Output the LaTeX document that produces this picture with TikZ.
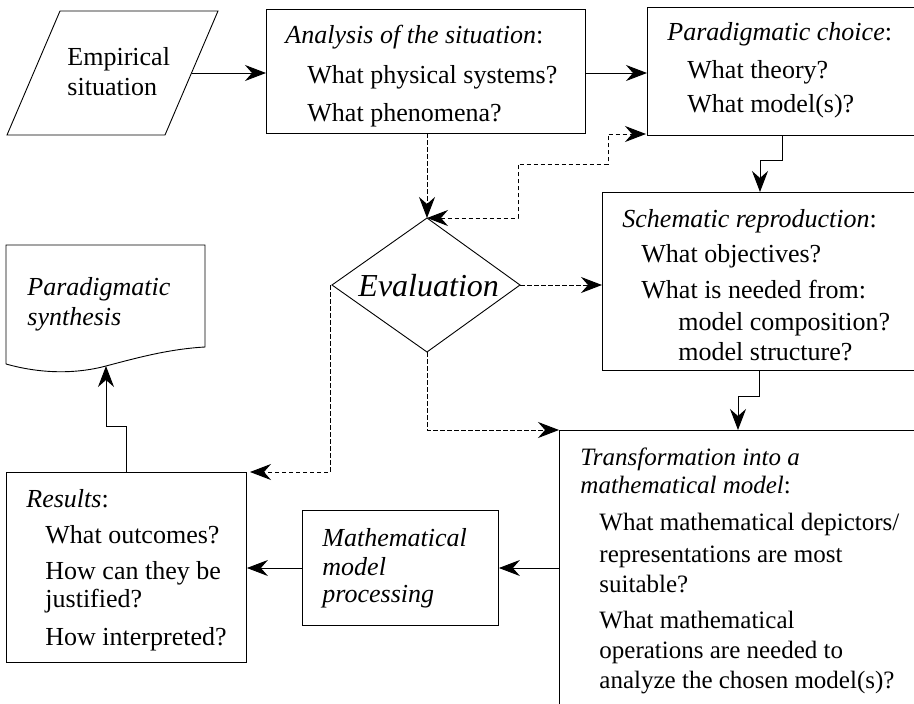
\documentclass[tikz,border=0pt]{standalone}
\usepackage{fontspec}
\setmainfont{Liberation Serif}
\usetikzlibrary{arrows.meta}
\newcommand{\bodyfont}{\fontsize{26}{30}\selectfont}
\newcommand{\trfont}{\fontsize{25}{30}\selectfont}
\newcommand{\evfont}{\fontsize{32}{36}\selectfont\itshape}
\begin{document}
\begin{tikzpicture}[x=1pt,y=-1pt,
  line width=0.9pt,
  tip/.tip={Stealth[length=21pt,width=16pt,inset=7pt]},
  arr/.style={-tip},
  dasharr/.style={arr, dash pattern=on 4.5pt off 2.5pt},
  box/.style={draw, rectangle, inner sep=0pt, anchor=north west},
  txt/.style={anchor=base west, inner sep=0pt, font=\bodyfont},
  trtxt/.style={anchor=base west, inner sep=0pt, font=\trfont}]
\useasboundingbox (0,0) rectangle (914,704);

% --- Empirical situation (parallelogram)
\coordinate (empA) at (60,11);
\coordinate (empB) at (218,11);
\coordinate (empC) at (165,135);
\coordinate (empD) at (7,135);
\draw (empA) -- (empB) -- (empC) -- (empD) -- cycle;
\coordinate (empR) at (192,73);
\node[txt] (emp1) at (67,65) {Empirical};
\node[txt] (emp2) at (67,95) {situation};

% --- Analysis of the situation
\node[box, minimum width=319pt, minimum height=124pt] (ana) at (266,9) {};
\node[txt] (ana1) at (285,43) {\textit{Analysis of the situation}:};
\node[txt] (ana2) at (307,83) {What physical systems?};
\node[txt] (ana3) at (307,121) {What phenomena?};

% --- Paradigmatic choice
\node[box, minimum width=300pt, minimum height=128pt] (par) at (647,7) {};
\node[txt] (par1) at (667,40) {\textit{Paradigmatic choice}:};
\node[txt] (par2) at (687,78) {What theory?};
\node[txt] (par3) at (687,112) {What model(s)?};

% --- Schematic reproduction
\node[box, minimum width=330pt, minimum height=178pt] (sch) at (602,192) {};
\node[txt] (sch1) at (622,227) {\textit{Schematic reproduction}:};
\node[txt] (sch2) at (641,262) {What objectives?};
\node[txt] (sch3) at (641,298) {What is needed from:};
\node[txt] (sch4) at (678,330) {model composition?};
\node[txt] (sch5) at (678,360) {model structure?};

% --- Transformation into a mathematical model
\node[box, minimum width=380pt, minimum height=300pt] (tra) at (559,430) {};
\node[trtxt] (tra1) at (580,465) {\textit{Transformation into a}};
\node[trtxt] (tra2) at (580,493) {\textit{mathematical model}:};
\node[trtxt] (tra3) at (599,530) {What mathematical depictors/};
\node[trtxt] (tra4) at (599,562) {representations are most};
\node[trtxt] (tra5) at (599,592) {suitable?};
\node[trtxt] (tra6) at (599,628) {What mathematical};
\node[trtxt] (tra7) at (599,658) {operations are needed to};
\node[trtxt] (tra8) at (599,688) {analyze the chosen model(s)?};

% --- Mathematical model processing
\node[box, minimum width=196pt, minimum height=115pt] (mmp) at (302,510) {};
\node[txt] (mmp1) at (322,546) {\textit{Mathematical}};
\node[txt] (mmp2) at (322,575) {\textit{model}};
\node[txt] (mmp3) at (322,602) {\textit{processing}};

% --- Results
\node[box, minimum width=240pt, minimum height=190pt] (res) at (6,472) {};
\node[txt] (res1) at (26,507) {\textit{Results}:};
\node[txt] (res2) at (45,543) {What outcomes?};
\node[txt] (res3) at (45,579) {How can they be};
\node[txt] (res4) at (45,607) {justified?};
\node[txt] (res5) at (45,645) {How interpreted?};

% --- Paradigmatic synthesis (document shape)
\coordinate (synTL) at (6,245);
\coordinate (synTR) at (205,245);
\coordinate (synBR) at (205,347);
\coordinate (synBL) at (6,364);
\coordinate (synArr) at (106,366);
\draw (synBL) -- (synTL) -- (synTR) -- (synBR)
  .. controls (170,349) and (140,357) .. (synArr)
  .. controls (80,373) and (45,375) .. (synBL);
\node[txt] (syn1) at (27,295) {\textit{Paradigmatic}};
\node[txt] (syn2) at (27,325) {\textit{synthesis}};

% --- Evaluation (diamond)
\coordinate (evT) at (427,218);
\coordinate (evL) at (332,285);
\coordinate (evR) at (520,285);
\coordinate (evB) at (427,352);
\draw (evT) -- (evR) -- (evB) -- (evL) -- cycle;
\node[anchor=base west, inner sep=0pt, font=\evfont] (ev) at (358,296) {Evaluation};

% --- Connectors
\draw[arr] (empR) -- (ana.west |- empR);
\draw[arr] (585,73) -- (647,73);
\draw[dasharr] (427,133) -- (evT);
\draw[dasharr, tip-tip]
  (evT) -- (518,218) -- (518,164) -- (608,164) -- (608,134) -- (646,134);
\draw[arr] (782,135) -- (782,160) -- (760,160) -- (sch.north -| 760,0);
\draw[dasharr] (evR) -- (sch.west |- evR);
\draw[arr] (759,370) -- (759,396) -- (738,396) -- (tra.north -| 738,0);
\draw[dasharr] (evB) -- (427,430) -- (tra.north west);
\draw[dasharr] (evL) ++(-2,0) -- (330,472) -- (250,472);
\draw[arr] (559,568) -- (mmp.east |- 0,568);
\draw[arr] (302,568) -- (res.east |- 0,568);
\draw[arr] (126,472) -- (126,426) -- (106,426) -- (synArr);
\end{tikzpicture}
\end{document}
